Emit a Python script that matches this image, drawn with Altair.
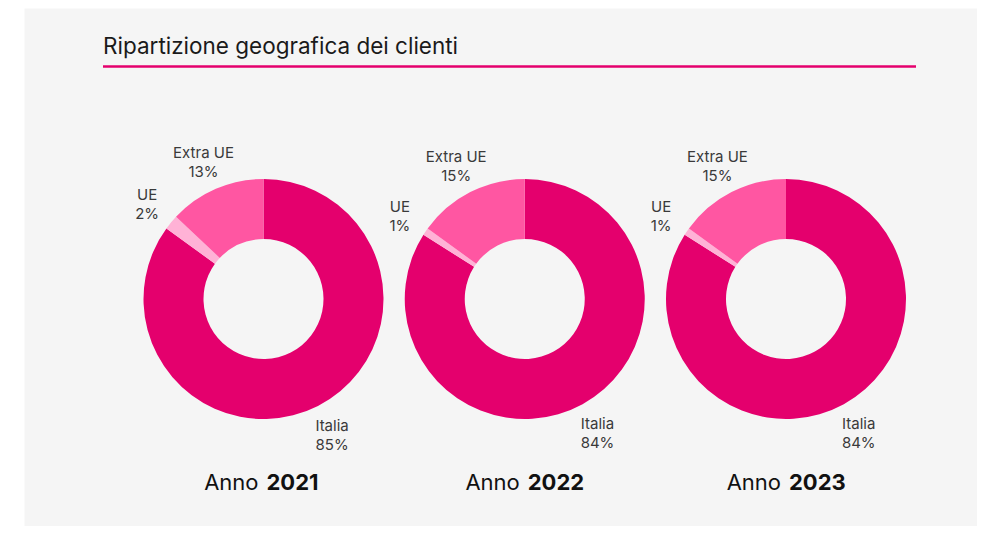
import altair as alt
import pandas as pd

years = [2021, 2022, 2023]
categories = ["Italia", "UE", "Extra UE"]
italia = [85, 84, 84]
ue = [2, 1, 1]
extra_ue = [13, 15, 15]
colors = ["#E4006D", "#FFB2D6", "#FF56A2"]
title_text = "Ripartizione geografica dei clienti"
year_prefix = "Anno"

rows = []
for i, yr in enumerate(years):
    for k, (c, vals) in enumerate(zip(categories, [italia, ue, extra_ue])):
        rows.append({"year": yr, "cat": c, "value": vals[i], "order": k})
df = pd.DataFrame(rows)
years_df = pd.DataFrame({"year": years, "prefix": [year_prefix] * len(years),
                         "ylabel": [str(y) for y in years]})
title_df = pd.DataFrame({"t": [title_text]})

FONT = "Inter"
xenc = alt.X("year:O", scale=alt.Scale(type="point", range=[239.5, 762], padding=0), axis=None)
yval = alt.value(291)
theta_scale = alt.Scale(domain=[0, 100])

base = alt.Chart(df).transform_stack(
    stack="value", groupby=["year"], as_=["t0", "t1"], sort=[alt.SortField("order")]
).transform_calculate(
    mid="(datum.t0 + datum.t1) / 2",
    label="datum.cat + '\\n' + datum.value + '%'",
)

arcs = base.mark_arc(innerRadius=60, outerRadius=120).encode(
    x=xenc,
    y=yval,
    theta=alt.Theta("t0:Q", scale=theta_scale),
    theta2=alt.Theta2("t1:Q"),
    color=alt.Color("cat:N", scale=alt.Scale(domain=categories, range=colors), legend=None),
)

labels = base.mark_text(radius=151, lineBreak="\n", lineHeight=19, fontSize=15, dy=-7.5,
                        font=FONT, color="#3a3a3a", align="center",
                        baseline="middle").encode(
    x=xenc,
    y=yval,
    theta=alt.Theta("mid:Q", scale=theta_scale),
    text="label:N",
)

prefix = alt.Chart(years_df).mark_text(align="right", dx=-5, fontSize=22, font=FONT,
                                       color="#111111", baseline="middle").encode(
    x=xenc, y=alt.value(475), text="prefix:N")
yr_text = alt.Chart(years_df).mark_text(align="left", dx=3, fontSize=22, font=FONT,
                                        fontWeight="bold", color="#111111",
                                        baseline="middle").encode(
    x=xenc, y=alt.value(475), text="ylabel:N")

title = alt.Chart(title_df).mark_text(align="left", baseline="alphabetic", fontSize=22.5,
                                      font=FONT, color="#1a1a1a").encode(
    x=alt.value(79), y=alt.value(46), text="t:N")
underline = alt.Chart(title_df).mark_rule(color="#E4006D", strokeWidth=2.5).encode(
    x=alt.value(79), x2=alt.value(892), y=alt.value(58.5))

chart = alt.layer(arcs, labels, prefix, yr_text, title, underline).properties(
    width=953, height=518,
    padding={"left": 16, "top": 0, "right": 0, "bottom": 0},
    autosize="none",
    background="white",
).configure_view(fill="#f5f5f5", stroke="transparent")

chart.save("out.html", embed_options={"renderer": "svg", "actions": False})
